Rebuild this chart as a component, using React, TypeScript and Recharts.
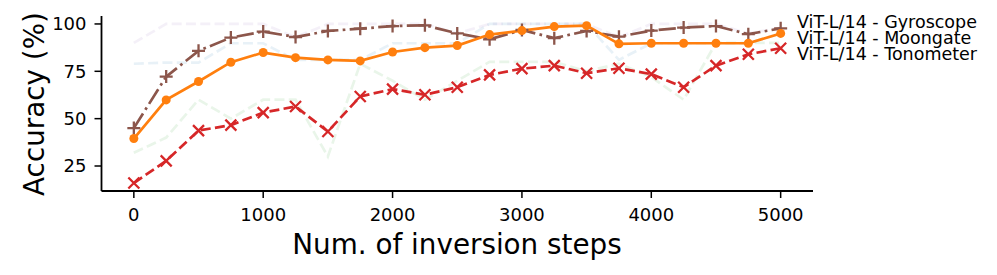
import React from "react";
import { LineChart, Line, XAxis, YAxis, Legend } from "recharts";

const steps = [0, 250, 500, 750, 1000, 1250, 1500, 1750, 2000, 2250, 2500, 2750, 3000, 3250, 3500, 3750, 4000, 4250, 4500, 4750, 5000];

const gyroscope = [45.0, 72.2, 85.8, 92.8, 96.0, 93.1, 96.3, 97.5, 98.9, 99.3, 95.0, 91.9, 96.8, 92.5, 96.3, 93.3, 96.5, 98.1, 98.9, 94.6, 97.7];
const moongate = [39.5, 59.9, 69.6, 79.8, 84.9, 82.2, 81.0, 80.5, 85.2, 87.5, 88.6, 94.4, 96.5, 98.6, 99.1, 89.5, 89.8, 89.8, 89.8, 89.8, 95.0];
const tonometer = [16.0, 27.7, 43.7, 46.6, 53.2, 56.4, 43.2, 61.7, 65.6, 62.6, 66.6, 73.1, 76.4, 78.0, 74.0, 76.6, 73.5, 66.6, 78.0, 84.0, 87.2];

// faint dashed background curves
const ghostPurple = [90, 100, 100, 100, 100, 93, 100, 100, 100, 100, 95, 100, 100, 100, 100, 93, 100, 100, 100, 95, 98];
const ghostBlue = [79, 79.6, 79.6, 89.8, 89.8, 81, 81, 81, 89.8, 89.8, 89.8, 100, 100, 100, 100, 81, 89.8, 89.8, 89.8, 89.8, 95];
const ghostGreen = [32, 40, 60, 50, 60, 60, 30, 79, 70, 60, 70, 80, 80, 80, 75, 79, 72, 60, 90, 90, 90];

const xTicks = [0, 1000, 2000, 3000, 4000, 5000];
const yTicks = [25, 50, 75, 100];
const legendLabels = ["ViT-L/14 - Gyroscope", "ViT-L/14 - Moongate", "ViT-L/14 - Tonometer"];

const data = steps.map((step, i) => ({
  step,
  gyroscope: gyroscope[i],
  moongate: moongate[i],
  tonometer: tonometer[i],
  ghostPurple: ghostPurple[i],
  ghostBlue: ghostBlue[i],
  ghostGreen: ghostGreen[i],
}));

const FONT = "'DejaVu Sans', sans-serif";
const LW = 2.7;
const DASHED = `${3.7 * LW} ${1.6 * LW}`;
const DASHDOT = `${6.4 * LW} ${1.6 * LW} ${1 * LW} ${1.6 * LW}`;

const PlusDot = (props: any) => {
  const { cx, cy, stroke, index } = props;
  if (cx == null || cy == null) return <g key={`p${index}`} />;
  const s = 6.5;
  return (
    <path
      key={`p${index}`}
      d={`M${cx - s},${cy}H${cx + s}M${cx},${cy - s}V${cy + s}`}
      stroke={stroke}
      strokeWidth={2.3}
      fill="none"
    />
  );
};

const CrossDot = (props: any) => {
  const { cx, cy, stroke, index } = props;
  if (cx == null || cy == null) return <g key={`x${index}`} />;
  const s = 5.5;
  return (
    <path
      key={`x${index}`}
      d={`M${cx - s},${cy - s}L${cx + s},${cy + s}M${cx + s},${cy - s}L${cx - s},${cy + s}`}
      stroke={stroke}
      strokeWidth={2.3}
      fill="none"
    />
  );
};

const LegendText = () => (
  <div style={{ fontFamily: FONT, fontSize: 17.5, lineHeight: "16px", color: "#000", whiteSpace: "nowrap" }}>
    {legendLabels.map((l) => (
      <div key={l}>{l}</div>
    ))}
  </div>
);

export default function App() {
  return (
    <div style={{ position: "absolute", left: 0, top: 0, width: 997, height: 275, background: "#fff" }}>
      <LineChart width={997} height={275} data={data} margin={{ top: 16, right: 184, bottom: 0, left: 0 }}>
        <XAxis
          type="number"
          dataKey="step"
          domain={[-250, 5250]}
          ticks={xTicks}
          allowDataOverflow
          height={84}
          tickSize={7}
          tickMargin={10}
          axisLine={{ stroke: "#000", strokeWidth: 1.8 }}
          tickLine={{ stroke: "#000", strokeWidth: 1.5 }}
          tick={{ fill: "#000", fontSize: 18, fontFamily: FONT }}
          label={() => (
            <text x={457} y={254} textAnchor="middle" fontSize={27.8} fontFamily={FONT} fill="#000">
              Num. of inversion steps
            </text>
          )}
        />
        <YAxis
          type="number"
          domain={[11.8, 104.2]}
          ticks={yTicks}
          allowDataOverflow
          width={101.5}
          tickSize={7}
          tickMargin={8}
          axisLine={{ stroke: "#000", strokeWidth: 1.8 }}
          tickLine={{ stroke: "#000", strokeWidth: 1.5 }}
          tick={{ fill: "#000", fontSize: 18, fontFamily: FONT }}
          label={() => (
            <text
              x={43.5}
              y={104}
              textAnchor="middle"
              fontSize={27.8}
              fontFamily={FONT}
              fill="#000"
              transform="rotate(-90, 43.5, 104)"
            >
              Accuracy (%)
            </text>
          )}
        />
        <Legend
          layout="horizontal"
          verticalAlign="middle"
          align="center"
          wrapperStyle={{ position: "absolute", left: 797, top: 14, width: 200, height: 60 }}
          content={<LegendText />}
        />
        <Line dataKey="ghostPurple" stroke="#9467bd" strokeOpacity={0.1} strokeWidth={LW} strokeDasharray={DASHED} dot={false} isAnimationActive={false} legendType="none" />
        <Line dataKey="ghostBlue" stroke="#1f77b4" strokeOpacity={0.1} strokeWidth={LW} strokeDasharray={DASHED} dot={false} isAnimationActive={false} legendType="none" />
        <Line dataKey="ghostGreen" stroke="#2ca02c" strokeOpacity={0.1} strokeWidth={LW} strokeDasharray={DASHED} dot={false} isAnimationActive={false} legendType="none" />
        <Line dataKey="gyroscope" stroke="#8c564b" strokeWidth={LW} strokeDasharray={DASHDOT} dot={PlusDot} activeDot={false} isAnimationActive={false} />
        <Line dataKey="moongate" stroke="#ff7f0e" strokeWidth={LW} dot={{ r: 4.5, fill: "#ff7f0e", stroke: "none" }} activeDot={false} isAnimationActive={false} />
        <Line dataKey="tonometer" stroke="#d62728" strokeWidth={LW} strokeDasharray={DASHED} dot={CrossDot} activeDot={false} isAnimationActive={false} />
      </LineChart>
    </div>
  );
}
